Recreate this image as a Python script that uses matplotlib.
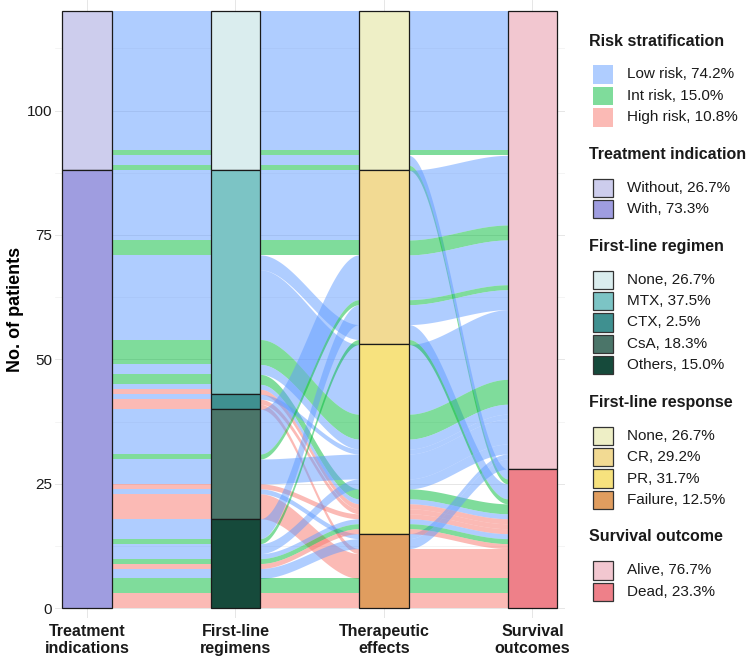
"""
alluvial plot of treatment path and outcome, coloured by risk group
"""

import matplotlib

matplotlib.use("Agg")
import matplotlib.pyplot as plt
import numpy as np
from matplotlib.patches import Rectangle

plt.rcParams["font.family"] = ["Liberation Sans", "DejaVu Sans"]

axis_titles = [
    "Treatment\nindications",
    "First-line\nregimens",
    "Therapeutic\neffects",
    "Survival\noutcomes",
]
treatment_levels = ["Without", "With"]
regimen_levels = ["None", "MTX", "CTX", "CsA", "Others"]
effect_levels = ["None", "CR", "PR", "Failure"]
survival_levels = ["Alive", "Dead"]
risk_levels = ["Low risk", "Int risk", "High risk"]

# patient groups, listed in the order they stack when their paths tie
grp_treatment = ["Without"] * 4 + ["With"] * 27
grp_regimen = (
    ["None"] * 4 + ["MTX"] * 9 + ["CTX"] * 3 + ["CsA"] * 6 + ["Others"] * 9
)
grp_effect = [
    "None", "None", "None", "None",
    "CR", "CR", "CR", "PR", "PR", "PR", "PR", "PR", "PR",
    "PR", "PR", "Failure",
    "CR", "CR", "PR", "PR", "Failure", "Failure",
    "CR", "CR", "PR", "PR", "PR", "PR", "Failure", "Failure", "Failure",
]
grp_survival = [
    "Alive", "Alive", "Dead", "Dead",
    "Alive", "Alive", "Dead", "Alive", "Alive", "Alive", "Dead", "Dead", "Dead",
    "Alive", "Dead", "Dead",
    "Alive", "Alive", "Alive", "Dead", "Alive", "Dead",
    "Alive", "Dead", "Alive", "Dead", "Dead", "Dead", "Alive", "Dead", "Dead",
]
grp_risk = [
    "Low risk", "Int risk", "Low risk", "Int risk",
    "Low risk", "Int risk", "Low risk", "Low risk", "Int risk", "Low risk",
    "Int risk", "Low risk", "High risk",
    "Low risk", "High risk", "High risk",
    "Low risk", "Int risk", "Low risk", "High risk", "Low risk", "High risk",
    "Low risk", "Int risk", "Low risk", "Low risk", "Int risk", "High risk",
    "Low risk", "Int risk", "High risk",
]
grp_count = [
    28, 1, 2, 1,
    14, 3, 3, 14, 5, 2, 2, 1, 1,
    1, 1, 1,
    9, 1, 5, 1, 1, 5,
    4, 1, 2, 1, 1, 1, 2, 3, 3,
]

legend_titles = [
    "Risk stratification",
    "Treatment indication",
    "First-line regimen",
    "First-line response",
    "Survival outcome",
]

risk_colors = {"Low risk": "#619CFF", "Int risk": "#00BA38", "High risk": "#F8766D"}
strata_colors = [
    ["#CDCDED", "#9F9DE0"],
    ["#DAEDEE", "#7CC4C5", "#3F9090", "#4B7569", "#164A3B"],
    ["#EEEFC6", "#F2DA93", "#F7E27E", "#E09D5F"],
    ["#F2C7D0", "#EE8089"],
]

levels = [treatment_levels, regimen_levels, effect_levels, survival_levels]
columns = [grp_treatment, grp_regimen, grp_effect, grp_survival]
counts = np.array(grp_count)
n = len(counts)
total = counts.sum()
strata = np.array([[levels[a].index(columns[a][i]) for a in range(4)] for i in range(n)])

# zigzag lode guidance, like ggalluvial
guide = {0: [1, 2, 3], 1: [0, 2, 3], 2: [3, 1, 0], 3: [2, 1, 0]}
lo = np.zeros((n, 4))
hi = np.zeros((n, 4))
for a in range(4):
    order = sorted(range(n), key=lambda i: (strata[i, a], *strata[i, guide[a]], i))
    top = total
    for i in order:
        hi[i, a] = top
        lo[i, a] = top - counts[i]
        top -= counts[i]

fig = plt.figure(figsize=(7.5, 6.7), dpi=100)
ax = fig.add_axes([55 / 750, 51.7 / 670, 510 / 750, 618.3 / 670])

w = 1 / 3
t = np.linspace(0, 1, 80)
s = t * t * (3 - 2 * t)
for i in range(n):
    for a in range(3):
        x = a + 1 + w / 2 + t * (1 - w)
        y0 = lo[i, a] + (lo[i, a + 1] - lo[i, a]) * s
        y1 = hi[i, a] + (hi[i, a + 1] - hi[i, a]) * s
        ax.fill_between(
            x, y0, y1, color=risk_colors[grp_risk[i]], alpha=0.5, lw=0, zorder=2
        )

for a in range(4):
    top = total
    for j, lev in enumerate(levels[a]):
        c = counts[strata[:, a] == j].sum()
        ax.bar(
            a + 1,
            c,
            bottom=top - c,
            width=w,
            color=strata_colors[a][j],
            edgecolor="#1a1a1a",
            lw=0.9,
            zorder=3,
        )
        top -= c

ax.set_xlim(0.785, 4.22)
ax.set_ylim(-2, 122.2)
ax.set_xticks(np.arange(1, 5))
ax.set_xticklabels(axis_titles, fontsize=11.5, fontweight="bold")
ax.set_yticks([0, 25, 50, 75, 100])
ax.set_yticks([12.5, 37.5, 62.5, 87.5, 112.5], minor=True)
ax.tick_params(axis="both", length=0, colors="#1a1a1a")
ax.tick_params(axis="y", labelsize=11, pad=2)
ax.tick_params(axis="x", pad=4)
ax.tick_params(axis="y", which="minor", length=0)
ax.grid(which="major", color="#e6e6e6", lw=0.7, zorder=0)
ax.grid(which="minor", axis="y", color="#f0f0f0", lw=0.5, zorder=0)
ax.set_axisbelow(True)
for sp in ax.spines.values():
    sp.set_visible(False)
ax.set_ylabel("No. of patients", fontsize=13, fontweight="bold", labelpad=2)

# legends, drawn by hand to mimic the stacked ggplot guides
risk_counts = [counts[np.array(grp_risk) == r].sum() for r in risk_levels]
entries = [[(r, risk_colors[r], c, True) for r, c in zip(risk_levels, risk_counts)]]
for a in range(4):
    entries.append(
        [
            (lev, strata_colors[a][j], counts[strata[:, a] == j].sum(), False)
            for j, lev in enumerate(levels[a])
        ]
    )

ypix = 41
for title, rows in zip(legend_titles, entries):
    fig.text(589 / 750, 1 - ypix / 670, title, fontsize=11.5, fontweight="bold",
             va="center", ha="left", color="#1a1a1a")
    ypix += 33.5
    for lab, col, c, is_risk in rows:
        if is_risk:
            rect = Rectangle((593 / 750, 1 - (ypix + 9.2) / 670), 20 / 750, 18.4 / 670,
                             facecolor=col, alpha=0.5, lw=0)
        else:
            rect = Rectangle((593 / 750, 1 - (ypix + 9.2) / 670), 20 / 750, 18.4 / 670,
                             facecolor=col, edgecolor="#333333", lw=0.9)
        fig.add_artist(rect)
        fig.text(627 / 750, 1 - ypix / 670, f"{lab}, {100 * c / total:.1f}%",
                 fontsize=11, va="center", ha="left", color="#1a1a1a")
        ypix += 21.4
    ypix += 37 - 21.4

fig.savefig("out.png", dpi=100)
